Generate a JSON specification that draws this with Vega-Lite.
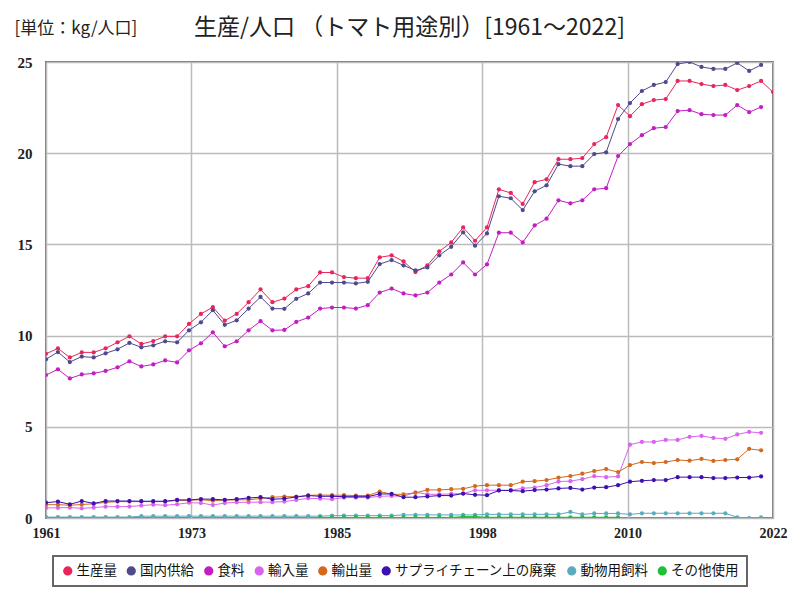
{
  "$schema": "https://vega.github.io/schema/vega-lite/v6.json",
  "autosize": "none",
  "width": 727,
  "height": 456,
  "padding": {"left": 46, "top": 62, "right": 27, "bottom": 82},
  "background": "white",
  "title": {"text": "生産/人口 （トマト用途別）[1961～2022]", "fontSize": 23, "font": "Noto Sans CJK JP", "fontWeight": "normal", "anchor": "middle", "offset": -21, "color": "#222"},
  "data": {"values": [
    {"year":1961,"生産量":9.0,"国内供給":8.7,"食料":7.84,"輸入量":0.55,"輸出量":0.73,"サプライチェーン上の廃棄":0.84,"動物用飼料":0.05},
    {"year":1962,"生産量":9.3,"国内供給":9.1,"食料":8.15,"輸入量":0.56,"輸出量":0.73,"サプライチェーン上の廃棄":0.9,"動物用飼料":0.05},
    {"year":1963,"生産量":8.8,"国内供給":8.55,"食料":7.65,"輸入量":0.57,"輸出量":0.7,"サプライチェーン上の廃棄":0.75,"動物用飼料":0.05},
    {"year":1964,"生産量":9.08,"国内供給":8.85,"食料":7.87,"輸入量":0.53,"輸出量":0.74,"サプライチェーン上の廃棄":0.93,"動物用飼料":0.05},
    {"year":1965,"生産量":9.08,"国内供給":8.8,"食料":7.93,"輸入量":0.57,"輸出量":0.78,"サプライチェーン上の廃棄":0.8,"動物用飼料":0.05},
    {"year":1966,"生産量":9.3,"国内供給":9.03,"食料":8.06,"輸入量":0.62,"輸出量":0.86,"サプライチェーン上の廃棄":0.93,"動物用飼料":0.05},
    {"year":1967,"生産量":9.63,"国内供給":9.25,"食料":8.26,"輸入量":0.62,"輸出量":0.9,"サプライチェーン上の廃棄":0.93,"動物用飼料":0.05},
    {"year":1968,"生産量":9.96,"国内供給":9.6,"食料":8.59,"輸入量":0.63,"輸出量":0.9,"サプライチェーン上の廃棄":0.93,"動物用飼料":0.05},
    {"year":1969,"生産量":9.54,"国内供給":9.36,"食料":8.31,"輸入量":0.68,"輸出量":0.9,"サプライチェーン上の廃棄":0.92,"動物用飼料":0.1},
    {"year":1970,"生産量":9.7,"国内供給":9.47,"食料":8.42,"輸入量":0.73,"輸出量":0.9,"サプライチェーン上の廃棄":0.92,"動物用飼料":0.1},
    {"year":1971,"生産量":9.96,"国内供給":9.69,"食料":8.64,"輸入量":0.7,"輸出量":0.9,"サプライチェーン上の廃棄":0.92,"動物用飼料":0.1},
    {"year":1972,"生産量":9.96,"国内供給":9.63,"食料":8.53,"輸入量":0.75,"輸出量":0.97,"サプライチェーン上の廃棄":0.99,"動物用飼料":0.1},
    {"year":1973,"生産量":10.64,"国内供給":10.29,"食料":9.19,"輸入量":0.84,"輸出量":0.97,"サプライチェーン上の廃棄":0.99,"動物用飼料":0.1},
    {"year":1974,"生産量":11.19,"国内供給":10.73,"食料":9.58,"輸入量":0.82,"輸出量":1.0,"サプライチェーン上の廃棄":1.04,"動物用飼料":0.1},
    {"year":1975,"生産量":11.56,"国内供給":11.39,"食料":10.18,"輸入量":0.71,"輸出量":0.95,"サプライチェーン上の廃棄":1.03,"動物用飼料":0.1},
    {"year":1976,"生産量":10.82,"国内供給":10.59,"食料":9.41,"輸入量":0.82,"輸出量":0.98,"サプライチェーン上の廃棄":0.99,"動物用飼料":0.1},
    {"year":1977,"生産量":11.19,"国内供給":10.84,"食料":9.69,"輸入量":0.86,"輸出量":1.0,"サプライチェーン上の廃棄":1.03,"動物用飼料":0.1},
    {"year":1978,"生産量":11.83,"国内供給":11.48,"食料":10.29,"輸入量":0.86,"輸出量":1.0,"サプライチェーン上の廃棄":1.1,"動物用飼料":0.1},
    {"year":1979,"生産量":12.53,"国内供給":12.12,"食料":10.79,"輸入量":0.87,"輸出量":1.07,"サプライチェーン上の廃棄":1.14,"動物用飼料":0.1},
    {"year":1980,"生産量":11.83,"国内供給":11.48,"食料":10.29,"輸入量":0.87,"輸出量":1.14,"サプライチェーン上の廃棄":1.03,"動物用飼料":0.1},
    {"year":1981,"生産量":12.03,"国内供給":11.47,"食料":10.31,"輸入量":0.9,"輸出量":1.17,"サプライチェーン上の廃棄":1.06,"動物用飼料":0.1},
    {"year":1982,"生産量":12.53,"国内供給":12.02,"食料":10.75,"輸入量":0.99,"輸出量":1.17,"サプライチェーン上の廃棄":1.15,"動物用飼料":0.1},
    {"year":1983,"生産量":12.71,"国内供給":12.31,"食料":10.99,"輸入量":1.08,"輸出量":1.24,"サプライチェーン上の廃棄":1.23,"動物用飼料":0.1},
    {"year":1984,"生産量":13.46,"国内供給":12.91,"食料":11.48,"輸入量":1.06,"輸出量":1.26,"サプライチェーン上の廃棄":1.19,"動物用飼料":0.1,"その他使用":0.03},
    {"year":1985,"生産量":13.46,"国内供給":12.91,"食料":11.54,"輸入量":1.03,"輸出量":1.25,"サプライチェーン上の廃棄":1.19,"動物用飼料":0.13,"その他使用":0.03},
    {"year":1986,"生産量":13.21,"国内供給":12.91,"食料":11.54,"輸入量":1.12,"輸出量":1.25,"サプライチェーン上の廃棄":1.17,"動物用飼料":0.13,"その他使用":0.03},
    {"year":1987,"生産量":13.15,"国内供給":12.86,"食料":11.48,"輸入量":1.12,"輸出量":1.23,"サプライチェーン上の廃棄":1.17,"動物用飼料":0.13,"その他使用":0.03},
    {"year":1988,"生産量":13.15,"国内供給":12.95,"食料":11.67,"輸入量":1.12,"輸出量":1.23,"サプライチェーン上の廃棄":1.17,"動物用飼料":0.13,"その他使用":0.03},
    {"year":1989,"生産量":14.29,"国内供給":13.92,"食料":12.36,"輸入量":1.19,"輸出量":1.45,"サプライチェーン上の廃棄":1.32,"動物用飼料":0.13,"その他使用":0.03},
    {"year":1990,"生産量":14.4,"国内供給":14.14,"食料":12.58,"輸入量":1.21,"輸出量":1.3,"サプライチェーン上の廃棄":1.32,"動物用飼料":0.13,"その他使用":0.03},
    {"year":1991,"生産量":14.07,"国内供給":13.85,"食料":12.31,"輸入量":1.19,"輸出量":1.3,"サプライチェーン上の廃棄":1.14,"動物用飼料":0.17,"その他使用":0.03},
    {"year":1992,"生産量":13.48,"国内供給":13.57,"食料":12.2,"輸入量":1.41,"輸出量":1.38,"サプライチェーン上の廃棄":1.14,"動物用飼料":0.17,"その他使用":0.03},
    {"year":1993,"生産量":13.85,"国内供給":13.74,"食料":12.36,"輸入量":1.3,"輸出量":1.54,"サプライチェーン上の廃棄":1.18,"動物用飼料":0.17,"その他使用":0.03},
    {"year":1994,"生産量":14.62,"国内供給":14.4,"食料":12.91,"輸入量":1.3,"輸出量":1.54,"サプライチェーン上の廃棄":1.23,"動物用飼料":0.17,"その他使用":0.03},
    {"year":1995,"生産量":15.11,"国内供給":14.87,"食料":13.35,"輸入量":1.32,"輸出量":1.58,"サプライチェーン上の廃棄":1.23,"動物用飼料":0.17,"その他使用":0.03},
    {"year":1996,"生産量":15.93,"国内供給":15.66,"食料":14.01,"輸入量":1.34,"輸出量":1.6,"サプライチェーン上の廃棄":1.34,"動物用飼料":0.17,"その他使用":0.08},
    {"year":1997,"生産量":15.2,"国内供給":14.93,"食料":13.35,"輸入量":1.52,"輸出量":1.75,"サプライチェーン上の廃棄":1.27,"動物用飼料":0.17,"その他使用":0.08},
    {"year":1998,"生産量":15.93,"国内供給":15.6,"食料":13.9,"輸入量":1.52,"輸出量":1.8,"サプライチェーン上の廃棄":1.25,"動物用飼料":0.2,"その他使用":0.04},
    {"year":1999,"生産量":18.02,"国内供給":17.64,"食料":15.64,"輸入量":1.52,"輸出量":1.8,"サプライチェーン上の廃棄":1.51,"動物用飼料":0.2,"その他使用":0.04},
    {"year":2000,"生産量":17.82,"国内供給":17.53,"食料":15.64,"輸入量":1.52,"輸出量":1.8,"サプライチェーン上の廃棄":1.51,"動物用飼料":0.2,"その他使用":0.04},
    {"year":2001,"生産量":17.22,"国内供給":16.88,"食料":15.11,"輸入量":1.63,"輸出量":1.99,"サプライチェーン上の廃棄":1.47,"動物用飼料":0.2,"その他使用":0.04},
    {"year":2002,"生産量":18.41,"国内供給":17.91,"食料":16.04,"輸入量":1.67,"輸出量":2.02,"サプライチェーン上の廃棄":1.53,"動物用飼料":0.2,"その他使用":0.04},
    {"year":2003,"生産量":18.57,"国内供給":18.24,"食料":16.41,"輸入量":1.8,"輸出量":2.08,"サプライチェーン上の廃棄":1.56,"動物用飼料":0.2,"その他使用":0.04},
    {"year":2004,"生産量":19.67,"国内供給":19.4,"食料":17.42,"輸入量":2.0,"輸出量":2.21,"サプライチェーン上の廃棄":1.62,"動物用飼料":0.2,"その他使用":0.04},
    {"year":2005,"生産量":19.67,"国内供給":19.29,"食料":17.25,"輸入量":2.02,"輸出量":2.3,"サプライチェーン上の廃棄":1.65,"動物用飼料":0.33,"その他使用":0.04},
    {"year":2006,"生産量":19.73,"国内供給":19.29,"食料":17.42,"輸入量":2.13,"輸出量":2.43,"サプライチェーン上の廃棄":1.56,"動物用飼料":0.2,"その他使用":0.04},
    {"year":2007,"生産量":20.5,"国内供給":19.95,"食料":18.02,"輸入量":2.29,"輸出量":2.57,"サプライチェーン上の廃棄":1.67,"動物用飼料":0.25,"その他使用":0.04},
    {"year":2008,"生産量":20.88,"国内供給":20.05,"食料":18.08,"輸入量":2.24,"輸出量":2.68,"サプライチェーン上の廃棄":1.69,"動物用飼料":0.25,"その他使用":0.04},
    {"year":2009,"生産量":22.64,"国内供給":21.87,"食料":19.84,"輸入量":2.28,"輸出量":2.52,"サプライチェーン上の廃棄":1.8,"動物用飼料":0.25,"その他使用":0.04},
    {"year":2010,"生産量":22.03,"国内供給":22.75,"食料":20.5,"輸入量":4.02,"輸出量":2.9,"サプライチェーン上の廃棄":1.99,"動物用飼料":0.2},
    {"year":2011,"生産量":22.69,"国内供給":23.41,"食料":20.99,"輸入量":4.17,"輸出量":3.07,"サプライチェーン上の廃棄":2.04,"動物用飼料":0.26},
    {"year":2012,"生産量":22.91,"国内供給":23.74,"食料":21.37,"輸入量":4.17,"輸出量":3.01,"サプライチェーン上の廃棄":2.08,"動物用飼料":0.26},
    {"year":2013,"生産量":22.97,"国内供給":23.9,"食料":21.43,"輸入量":4.28,"輸出量":3.07,"サプライチェーン上の廃棄":2.08,"動物用飼料":0.26},
    {"year":2014,"生産量":23.96,"国内供給":24.89,"食料":22.31,"輸入量":4.28,"輸出量":3.18,"サプライチェーン上の廃棄":2.24,"動物用飼料":0.26},
    {"year":2015,"生産量":23.96,"国内供給":25.0,"食料":22.36,"輸入量":4.45,"輸出量":3.14,"サプライチェーン上の廃棄":2.24,"動物用飼料":0.26},
    {"year":2016,"生産量":23.79,"国内供給":24.73,"食料":22.14,"輸入量":4.5,"輸出量":3.24,"サプライチェーン上の廃棄":2.24,"動物用飼料":0.26},
    {"year":2017,"生産量":23.68,"国内供給":24.62,"食料":22.09,"輸入量":4.39,"輸出量":3.13,"サプライチェーン上の廃棄":2.19,"動物用飼料":0.26},
    {"year":2018,"生産量":23.74,"国内供給":24.62,"食料":22.09,"輸入量":4.34,"輸出量":3.18,"サプライチェーン上の廃棄":2.19,"動物用飼料":0.26},
    {"year":2019,"生産量":23.46,"国内供給":24.95,"食料":22.64,"輸入量":4.58,"輸出量":3.22,"サプライチェーン上の廃棄":2.22,"動物用飼料":0.04},
    {"year":2020,"生産量":23.68,"国内供給":24.51,"食料":22.25,"輸入量":4.72,"輸出量":3.79,"サプライチェーン上の廃棄":2.22,"動物用飼料":0.0},
    {"year":2021,"生産量":23.96,"国内供給":24.84,"食料":22.53,"輸入量":4.67,"輸出量":3.71,"サプライチェーン上の廃棄":2.28,"動物用飼料":0.03},
    {"year":2022,"生産量":23.35}
  ]},
  "transform": [
    {"fold": ["生産量","国内供給","食料","輸入量","輸出量","サプライチェーン上の廃棄","動物用飼料","その他使用"], "as": ["series","value"]},
    {"filter": "isValid(datum.value)"}
  ],
  "mark": {"type": "line", "strokeWidth": 1, "point": {"filled": true, "size": 18}, "clip": true},
  "encoding": {
    "x": {"field": "year", "type": "quantitative", "scale": {"domain": [1961, 2022], "nice": false, "zero": false},
      "axis": {"title": null, "values": [1961, 1973.2, 1985.4, 1997.6, 2009.8, 2022], "labelExpr": "'' + round(datum.value)", "grid": true, "domain": false, "ticks": false, "labelPadding": 8, "labelFontSize": 14, "labelFont": "Liberation Sans Narrow", "labelFontWeight": "bold", "labelColor": "#222", "labelFlush": false}},
    "y": {"field": "value", "type": "quantitative", "scale": {"domain": [0, 25], "nice": false},
      "axis": {"title": "[単位：kg/人口]", "titleAngle": 0, "titleAlign": "left", "titleBaseline": "middle", "titleX": -32, "titleY": -34, "titleFont": "Noto Sans CJK JP", "titleFontSize": 17, "titleFontWeight": "normal", "titleColor": "#222",
        "values": [0, 5, 10, 15, 20, 25], "grid": true, "domain": false, "ticks": false, "labelPadding": 14, "labelFontSize": 15, "labelFont": "Liberation Sans Narrow", "labelFontWeight": "bold", "labelColor": "#222"}},
    "color": {"field": "series", "type": "nominal",
      "scale": {"domain": ["生産量","国内供給","食料","輸入量","輸出量","サプライチェーン上の廃棄","動物用飼料","その他使用"],
                "range": ["#e8265e","#4e4a8c","#c21fc2","#d965ee","#d2691e","#3d10b0","#5aabbb","#1fbf3a"]},
      "legend": {"title": null, "orient": "none", "legendX": 7, "legendY": 494, "direction": "horizontal", "columns": 8, "symbolType": "circle", "symbolSize": 60, "labelFontSize": 13.5, "labelFont": "Noto Sans CJK JP", "labelColor": "#111", "labelLimit": 400, "columnPadding": 6.5, "labelOffset": 2, "padding": 8, "strokeColor": "#666", "cornerRadius": 0}},
    "order": {"field": "year", "type": "quantitative"}
  },
  "config": {
    "view": {"stroke": "#777", "strokeWidth": 2},
    "axis": {"gridColor": "#bbbbbb", "gridWidth": 1.5},
    "legend": {"strokeWidth": 2}
  }
}
